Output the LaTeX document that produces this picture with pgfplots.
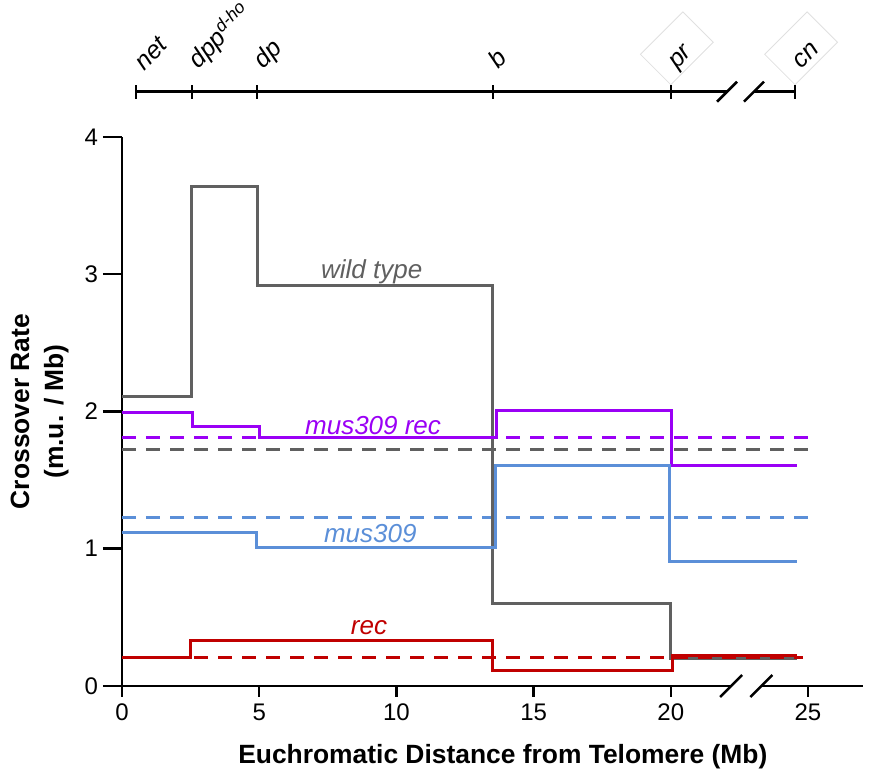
\documentclass[border=0pt]{standalone}
\usepackage{pgfplots}
\pgfplotsset{compat=1.18}
\usepackage{fontspec}
\setmainfont{Liberation Sans}
\definecolor{wtgray}{HTML}{606060}
\definecolor{mpurple}{HTML}{9A00F5}
\definecolor{mblue}{HTML}{5B8FD8}
\definecolor{rred}{HTML}{C00000}
\begin{document}
\begin{tikzpicture}
\begin{axis}[
 x=13.72pt, y=68.625pt,
 xmin=0, xmax=27, ymin=0, ymax=4,
 axis x line*=bottom, axis y line*=left,
 axis line style={line width=1.25pt, black},
 xtick={0,5,...,25}, ytick={0,1,2,3,4},
 tick align=outside, major tick length=5.5pt,
 tick style={line width=1.25pt, black},
 every tick label/.append style={font=\fontsize{12}{14}\selectfont},
 yticklabel style={xshift=-3pt},
 /pgf/number format/assume math mode=true,
 xlabel={Euchromatic Distance from Telomere (Mb)},
 ylabel={Crossover Rate\\(m.u. / Mb)},
 xlabel style={font=\bfseries\fontsize{13.2}{15}\selectfont, at={(axis description cs:0.514,-0.129)}, anchor=center},
 ylabel style={font=\bfseries\fontsize{13.2}{17}\selectfont, align=center, at={(axis description cs:-0.111,0.5)}, anchor=center},
 clip=false,
 every axis plot/.append style={line width=1.5pt},
 dashst/.style={dash pattern=on 7pt off 5pt},
]
\coordinate (O) at (axis cs:0,0);
% dashed means
\addplot[wtgray, dashst] coordinates {(0,1.72) (25,1.72)};
\addplot[mpurple, dashst] coordinates {(0,1.81) (25,1.81)};
\addplot[mblue, dashst] coordinates {(0,1.23) (25,1.23)};
% step profiles
\addplot[wtgray, const plot] coordinates {(0,2.11) (2.55,3.64) (4.92,2.92) (13.52,0.6) (20.0,0.2) (24.6,0.2)};
\addplot[mpurple, const plot] coordinates {(0,1.99) (2.58,1.89) (5.0,1.81) (13.65,2.01) (20.02,1.61) (24.6,1.61)};
\addplot[mblue, const plot] coordinates {(0,1.12) (4.9,1.01) (13.6,1.61) (19.95,0.91) (24.6,0.91)};
\addplot[rred, const plot] coordinates {(0,0.21) (2.5,0.33) (13.52,0.11) (20.05,0.22) (24.6,0.22)};
\addplot[rred, dashst] coordinates {(0,0.21) (24.8,0.21)};
% curve labels
\node[font=\itshape\fontsize{13}{15}\selectfont, text=wtgray] at (axis cs:9.1,3.02) {wild type};
\node[font=\itshape\fontsize{13}{15}\selectfont, text=mpurple] at (axis cs:9.15,1.895) {mus309 rec};
\node[font=\itshape\fontsize{13}{15}\selectfont, text=mblue] at (axis cs:9.05,1.11) {mus309};
\node[font=\itshape\fontsize{13}{15}\selectfont, text=rred] at (axis cs:9.0,0.426) {rec};
% y tick extensions
\draw[line width=1.25pt] ([xshift=-9.5pt]axis cs:0,1) -- (axis cs:0,1);
\draw[line width=1.25pt] ([xshift=-9.5pt]axis cs:0,2) -- (axis cs:0,2);
\draw[line width=1.25pt] ([xshift=-9.5pt]axis cs:0,3) -- (axis cs:0,3);
\draw[line width=1.25pt] ([xshift=-9.5pt]axis cs:0,4) -- (axis cs:0,4);
\draw[line width=1.25pt] ([xshift=-9.5pt]axis cs:0,0) -- (axis cs:0,0);
% x-axis break
\fill[white] ([yshift=-2pt]axis cs:22.2,0) rectangle ([yshift=2pt]axis cs:23.3,0);
\draw[line width=1.25pt] ([shift={(-5.5pt,-5.5pt)}]axis cs:22.2,0) -- ([shift={(5.5pt,5.5pt)}]axis cs:22.2,0);
\draw[line width=1.25pt] ([shift={(-5.5pt,-5.5pt)}]axis cs:23.3,0) -- ([shift={(5.5pt,5.5pt)}]axis cs:23.3,0);
% gene map
\draw[black!12, line width=0.4pt, rotate around={45:([yshift=3.5pt]axis cs:20.0,4.33)}] ([yshift=3.5pt]axis cs:20.0,4.33) rectangle ++(30pt,21.5pt);
\draw[black!12, line width=0.4pt, rotate around={45:([yshift=3.5pt]axis cs:24.53,4.33)}] ([yshift=3.5pt]axis cs:24.53,4.33) rectangle ++(30pt,21.5pt);
\draw[line width=1.25pt] (axis cs:0.51,4.33) -- (axis cs:22.05,4.33);
\draw[line width=1.25pt] (axis cs:23.03,4.33) -- (axis cs:24.53,4.33);
\draw[line width=1.25pt] ([shift={(-5pt,-5pt)}]axis cs:22.05,4.33) -- ([shift={(5pt,5pt)}]axis cs:22.05,4.33);
\draw[line width=1.25pt] ([shift={(-5pt,-5pt)}]axis cs:23.03,4.33) -- ([shift={(5pt,5pt)}]axis cs:23.03,4.33);
\draw[line width=1.25pt] ([yshift=-3.5pt]axis cs:0.51,4.33) -- ([yshift=3.5pt]axis cs:0.51,4.33);
\draw[line width=1.25pt] ([yshift=-3.5pt]axis cs:2.55,4.33) -- ([yshift=3.5pt]axis cs:2.55,4.33);
\draw[line width=1.25pt] ([yshift=-3.5pt]axis cs:4.92,4.33) -- ([yshift=3.5pt]axis cs:4.92,4.33);
\draw[line width=1.25pt] ([yshift=-3.5pt]axis cs:13.52,4.33) -- ([yshift=3.5pt]axis cs:13.52,4.33);
\draw[line width=1.25pt] ([yshift=-3.5pt]axis cs:20.0,4.33) -- ([yshift=3.5pt]axis cs:20.0,4.33);
\draw[line width=1.25pt] ([yshift=-3.5pt]axis cs:24.53,4.33) -- ([yshift=3.5pt]axis cs:24.53,4.33);
\tikzset{gene/.style={rotate=45, anchor=base west, font=\itshape\fontsize{12.5}{14}\selectfont, inner sep=0pt}}
\node[gene] at ([xshift=4pt,yshift=10pt]axis cs:0.51,4.33) {net};
\node[gene] at ([xshift=3pt,yshift=11pt]axis cs:2.55,4.33) {dpp\textsuperscript{d-ho}};
\node[gene] at ([xshift=3pt,yshift=11pt]axis cs:4.92,4.33) {dp};
\node[gene] at ([xshift=2.5pt,yshift=11pt]axis cs:13.52,4.33) {b};
\node[gene] at ([xshift=3pt,yshift=11pt]axis cs:20.0,4.33) {pr};
\node[gene] at ([xshift=3pt,yshift=11pt]axis cs:24.53,4.33) {cn};
\end{axis}
\pgfresetboundingbox
\path ([shift={(-61pt,-44pt)}]O) rectangle ([shift={(375.5pt,343pt)}]O);
\end{tikzpicture}
\end{document}
